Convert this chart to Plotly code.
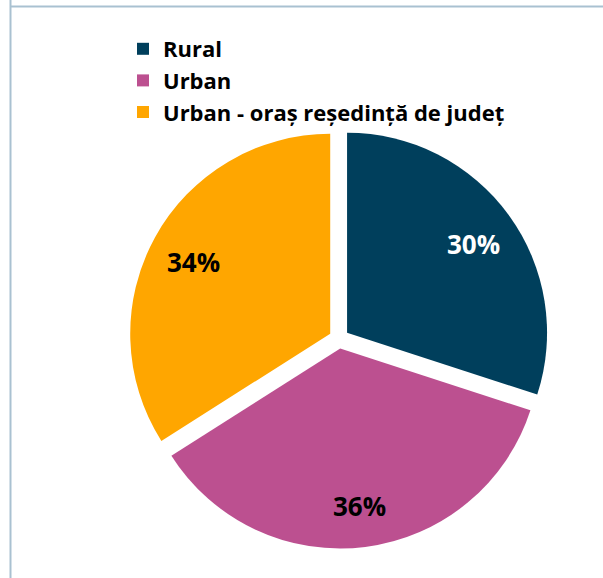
import math
import plotly.graph_objects as go

labels = ["Rural", "Urban", "Urban - oraș reședință de județ"]
values = [30, 36, 34]
colors = ["#003f5c", "#bc5090", "#ffa600"]
text_colors = ["#ffffff", "#000000", "#000000"]

W, H = 603, 578
font_family = "Open Sans, Noto Sans, DejaVu Sans, sans-serif"
PULL = 0.05
DOM_X = [0.2139, 0.9104]
DOM_Y = [0.0509, 0.7775]
LABEL_R = 0.78  # fraction of radius where the percentage labels sit

fig = go.Figure(go.Pie(
    labels=labels,
    values=values,
    marker=dict(colors=colors, line=dict(width=0)),
    sort=False,
    direction="clockwise",
    rotation=0,
    pull=[PULL] * len(values),
    textinfo="none",
    hoverinfo="label+percent",
    domain=dict(x=DOM_X, y=DOM_Y),
))

# percentage labels placed along each slice's bisector (derived from the values)
total = sum(values)
cx = (DOM_X[0] + DOM_X[1]) / 2 * W
cy = (1 - (DOM_Y[0] + DOM_Y[1]) / 2) * H
rad = min((DOM_X[1] - DOM_X[0]) * W, (DOM_Y[1] - DOM_Y[0]) * H) / 2 / (1 + PULL)
annotations = []
cum = 0
for v, tc in zip(values, text_colors):
    theta = 2 * math.pi * (cum + v / 2) / total
    cum += v
    d = rad * (PULL + LABEL_R)
    px = cx + d * math.sin(theta)
    py = cy - d * math.cos(theta) + 3
    annotations.append(dict(
        x=px / W, y=1 - py / H, xref="paper", yref="paper",
        text=f"<b>{round(100 * v / total)}%</b>", showarrow=False,
        xanchor="center", yanchor="middle",
        font=dict(size=26, color=tc, family=font_family),
    ))

fig.update_layout(
    width=W, height=H,
    margin=dict(l=0, r=0, t=0, b=0),
    paper_bgcolor="white",
    plot_bgcolor="white",
    showlegend=True,
    legend=dict(
        x=123 / W, y=1 - 28 / H, xanchor="left", yanchor="top",
        font=dict(size=22, color="#000000", family=font_family, weight="bold"),
        bgcolor="rgba(0,0,0,0)",
        itemclick=False,
    ),
    annotations=annotations,
    shapes=[
        dict(type="line", xref="paper", yref="paper", x0=10.5 / W, x1=10.5 / W, y0=0, y1=1,
             line=dict(color="#a9c1d1", width=2)),
        dict(type="line", xref="paper", yref="paper", x0=10 / W, x1=1, y0=1 - 6.5 / H, y1=1 - 6.5 / H,
             line=dict(color="#a9c1d1", width=2)),
    ],
)

fig.write_html("out.html", config={"displayModeBar": False},
               post_script="document.body.style.margin='0';")
